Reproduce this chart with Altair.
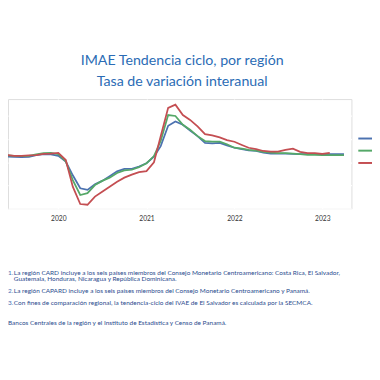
import altair as alt
import pandas as pd

# ---- data (interannual % change, trend-cycle IMAE) ----
months = pd.date_range("2019-05-01", "2023-04-01", freq="MS").strftime("%Y-%m-%d").tolist()

series_names = ["CA", "CARD", "CAPARD"]
series_colors = ["#4c72b0", "#55a868", "#c44e52"]

ca = [2.5,
      2.5, 2.4, 2.3, 2.4, 3.1, 3.5, 3.4,
      2.8, 0.3, -5.6, -11.2, -11.9, -9.5, -8.0, -6.0, -3.9, -2.8, -2.8, -1.8,
      -0.4, 2.4, 7.0, 15.8, 17.6, 16.2, 13.7, 11.3, 8.4, 8.2, 8.4, 7.3,
      6.3, 5.7, 5.2, 4.9, 4.2, 3.8, 3.8, 3.8, 3.7, 3.5, 3.5, 3.5,
      3.5, 3.5, 3.5, 3.5]

card = [3.1,
        3.0, 2.8, 2.7, 2.8, 3.4, 4.0, 4.1,
        3.5, 0.4, -7.7, -14.1, -13.3, -9.8, -8.0, -6.6, -4.6, -3.5, -3.2, -2.1,
        -0.4, 2.7, 9.2, 20.4, 20.0, 16.2, 14.1, 11.3, 9.2, 8.9, 8.9, 7.8,
        6.3, 5.9, 5.4, 5.1, 4.5, 4.2, 4.0, 4.0, 3.8, 3.5, 3.2, 3.2,
        3.1, 3.1, 3.1, 3.1]

capard = [3.5,
          3.2, 2.8, 2.8, 3.0, 3.1, 3.7, 3.8,
          4.1, 1.0, -10.5, -18.0, -18.3, -14.8, -12.7, -10.5, -8.4, -6.6, -5.3, -4.2,
          -3.8, 0.0, 11.3, 23.5, 24.9, 20.4, 18.3, 15.5, 12.2, 11.6, 10.8, 9.6,
          8.9, 7.5, 6.3, 5.7, 4.9, 4.6, 4.6, 5.4, 5.9, 4.5, 4.0, 4.0,
          3.7, 4.1]

year_ticks = [2020, 2021, 2022, 2023]
y_ticks = [-20, -10, 0, 10, 20]

title_lines = ["IMAE Tendencia ciclo, por región", "Tasa de variación interanual"]
note1 = ["La región CARD incluye a los seis países miembros del Consejo Monetario Centroamericano: Costa Rica, El Salvador,",
         "Guatemala, Honduras, Nicaragua y República Dominicana."]
note2 = "La región CAPARD incluye a los seis países miembros del Consejo Monetario Centroamericano y Panamá."
note3 = "Con fines de comparación regional, la tendencia-ciclo del IVAE de El Salvador es calculada por la SECMCA."
source = "Bancos Centrales de la región y el Instituto de Estadística y Censo de Panamá."

rows = []
for name, vals in zip(series_names, [ca, card, capard]):
    for m, v in zip(months, vals):
        rows.append({"fecha": m, "serie": name, "valor": v})
df = pd.DataFrame(rows)

# ---- chart ----
x_enc = alt.X(
    "fecha:T",
    scale=alt.Scale(type="utc",
                    domain=[alt.DateTime(year=2019, month=6, date=6, utc=True),
                            alt.DateTime(year=2023, month=5, date=2, utc=True)]),
    axis=alt.Axis(values=[alt.DateTime(year=y, month=1, date=1, utc=True) for y in year_ticks],
                  format="%Y", title=None, grid=True, gridColor="white", gridWidth=1.2,
                  domain=False, ticks=False, labelFontSize=6.8, labelColor="#333333",
                  labelFont="Lato", labelPadding=7),
)
y_enc = alt.Y(
    "valor:Q",
    scale=alt.Scale(domain=[-20, 27.3], nice=False, zero=False),
    axis=alt.Axis(values=y_ticks, labels=False, ticks=False, domain=False, title=None,
                  grid=True, gridColor="white", gridWidth=1.2),
)

lines = alt.Chart(df).mark_line(strokeWidth=1.8, clip=True).encode(
    x=x_enc,
    y=y_enc,
    color=alt.Color("serie:N",
                    scale=alt.Scale(domain=series_names, range=series_colors),
                    sort=series_names, legend=None),
)


def txt(text, x, y, size, color, align="left", weight="normal", font="Lato"):
    return alt.Chart(alt.Data(values=[{}])).mark_text(
        align=align, baseline="middle", fontSize=size, color=color,
        fontWeight=weight, font=font).encode(
        x=alt.value(x), y=alt.value(y), text=alt.value(text))


def key(color, y):
    # legend swatch (labels lie outside the visible frame, as in the reference)
    return alt.Chart(alt.Data(values=[{}])).mark_rule(color=color, strokeWidth=2).encode(
        x=alt.value(358), x2=alt.value(380), y=alt.value(y))


title_col = "#2b6cb5"
note_col = "#2a4c8e"
num_col = "#4a6fb5"
layers = [
    lines,
    key(series_colors[0], 40.3),
    key(series_colors[1], 52.7),
    key(series_colors[2], 65.3),
    txt(title_lines[0], 178, -39, 14.5, title_col, align="center"),
    txt(title_lines[1], 178, -17, 14.5, title_col, align="center"),
    txt("1.", 0, 178, 6.6, num_col),
    txt(note1[0], 6, 178, 6.6, note_col),
    txt(note1[1], 6, 184, 6.6, note_col),
    txt("2.", 0, 196, 6.6, num_col),
    txt(note2, 6, 196, 6.6, note_col),
    txt("3.", 0, 208, 6.6, num_col),
    txt(note3, 6, 208, 6.6, note_col),
    txt(source, 0, 229, 6.6, note_col),
]

chart = alt.layer(*layers).properties(
    width=351, height=112,
    autosize=alt.AutoSizeParams(type="none"),
    padding={"left": 0, "top": 89, "right": 21, "bottom": 171},
).configure_view(fill="#eaeaf2", strokeOpacity=0).configure(background="white")

chart.save("out.html", embed_options={"renderer": "svg", "actions": False})
